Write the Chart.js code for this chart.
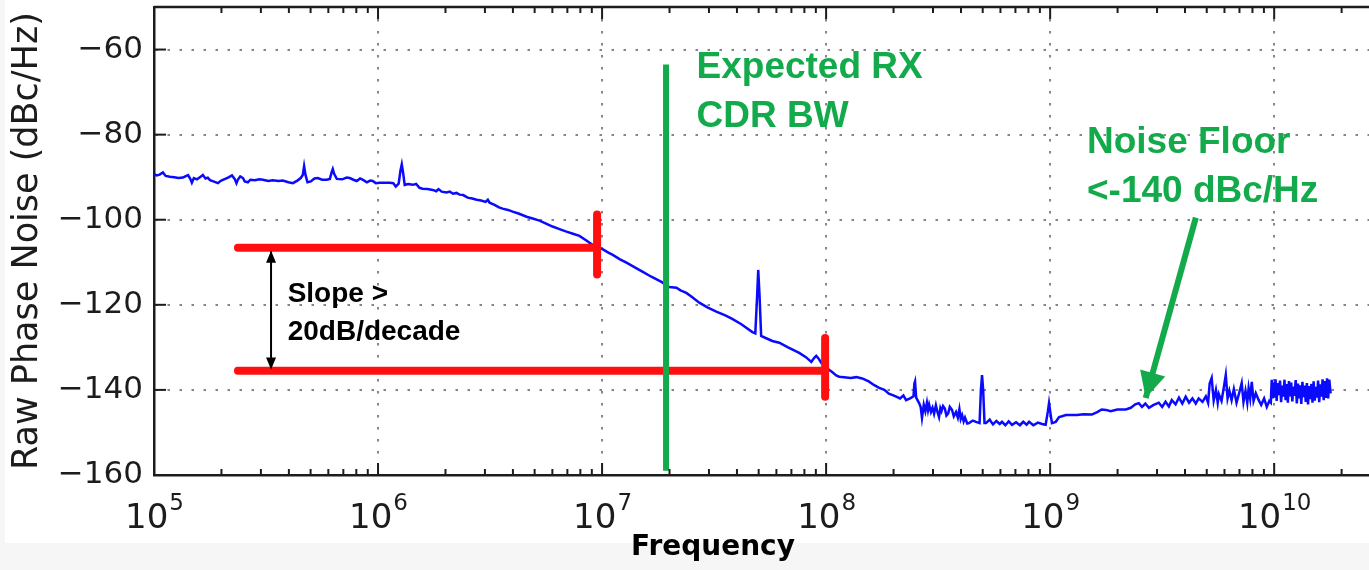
<!DOCTYPE html>
<html>
<head>
<meta charset="utf-8">
<title>Raw Phase Noise</title>
<script src="https://cdn.jsdelivr.net/npm/chart.js@4.4.1/dist/chart.umd.min.js"></script>
<style>
  html, body { margin: 0; padding: 0; background: #fff; }
  canvas { display: block; }
</style>
</head>
<body>
<canvas id="ruido" width="1369" height="570"></canvas>
<script>
// exponente de la frecuencia (log10 Hz) y ruido de fase
const freqExp = [
  5.000, 5.012, 5.025, 5.040, 5.052, 5.071, 5.090, 5.110, 5.129, 5.140,
  5.152, 5.162, 5.169, 5.178, 5.192, 5.205, 5.218, 5.230, 5.240, 5.250,
  5.265, 5.285, 5.300, 5.318, 5.335, 5.348, 5.360, 5.368, 5.374, 5.385,
  5.397, 5.405, 5.419, 5.430, 5.450, 5.470, 5.486, 5.510, 5.530, 5.555,
  5.575, 5.600, 5.620, 5.640, 5.655, 5.664, 5.670, 5.676, 5.685, 5.700,
  5.716, 5.731, 5.750, 5.771, 5.785, 5.793, 5.798, 5.804, 5.816, 5.840,
  5.860, 5.874, 5.890, 5.905, 5.920, 5.935, 5.950, 5.965, 5.976, 5.990,
  6.008, 6.030, 6.052, 6.068, 6.079, 6.092, 6.100, 6.106, 6.112, 6.119,
  6.135, 6.155, 6.170, 6.185, 6.199, 6.220, 6.244, 6.260, 6.270, 6.284,
  6.306, 6.320, 6.335, 6.350, 6.364, 6.380, 6.400, 6.420, 6.440, 6.460,
  6.480, 6.490, 6.498, 6.520, 6.540, 6.556, 6.580, 6.601, 6.630, 6.663,
  6.690, 6.721, 6.750, 6.779, 6.810, 6.841, 6.870, 6.899, 6.930, 6.957,
  6.980, 7.002, 7.030, 7.046, 7.080, 7.109, 7.150, 7.180, 7.220, 7.265,
  7.300, 7.332, 7.350, 7.376, 7.400, 7.434, 7.470, 7.510, 7.550, 7.581,
  7.620, 7.671, 7.684, 7.692, 7.697, 7.703, 7.710, 7.730, 7.760, 7.791,
  7.830, 7.880, 7.910, 7.934, 7.948, 7.956, 7.966, 7.978, 8.000, 8.027,
  8.045, 8.058, 8.080, 8.110, 8.135, 8.161, 8.190, 8.215, 8.237, 8.260,
  8.280, 8.300, 8.313, 8.330, 8.345, 8.357, 8.375, 8.390, 8.394, 8.397,
  8.402, 8.415, 8.422, 8.428, 8.436, 8.443, 8.450, 8.455, 8.460, 8.468,
  8.475, 8.482, 8.490, 8.497, 8.504, 8.510, 8.515, 8.522, 8.530, 8.537,
  8.545, 8.552, 8.562, 8.570, 8.580, 8.588, 8.595, 8.601, 8.607, 8.614,
  8.620, 8.630, 8.638, 8.655, 8.669, 8.685, 8.691, 8.696, 8.701, 8.707,
  8.714, 8.730, 8.745, 8.760, 8.775, 8.785, 8.800, 8.815, 8.830, 8.848,
  8.865, 8.880, 8.895, 8.906, 8.925, 8.945, 8.964, 8.980, 8.990, 8.995,
  9.000, 9.008, 9.025, 9.040, 9.053, 9.070, 9.084, 9.120, 9.150, 9.186,
  9.210, 9.230, 9.249, 9.270, 9.300, 9.338, 9.360, 9.380, 9.396, 9.410,
  9.425, 9.441, 9.460, 9.485, 9.500, 9.515, 9.530, 9.543, 9.560, 9.575,
  9.590, 9.605, 9.620, 9.635, 9.650, 9.663, 9.680, 9.695, 9.705, 9.712,
  9.721, 9.730, 9.740, 9.748, 9.753, 9.765, 9.775, 9.784, 9.792, 9.800,
  9.810, 9.820, 9.832, 9.845, 9.855, 9.863, 9.872, 9.880, 9.886, 9.893,
  9.900, 9.908, 9.918, 9.931, 9.942, 9.955, 9.967, 9.978, 9.985, 9.989,
  9.993, 9.997, 10.001, 10.006, 10.011, 10.016, 10.021, 10.026, 10.031, 10.036,
  10.041, 10.046, 10.051, 10.056, 10.061, 10.066, 10.071, 10.076, 10.081, 10.086,
  10.091, 10.096, 10.101, 10.106, 10.111, 10.116, 10.121, 10.126, 10.131, 10.136,
  10.141, 10.146, 10.151, 10.156, 10.161, 10.166, 10.171, 10.176, 10.181, 10.186,
  10.191, 10.196, 10.201, 10.206, 10.211, 10.216, 10.221, 10.226, 10.231, 10.236,
  10.241, 10.246, 10.252
];
const noiseDb = [
  -89.3, -89.6, -89.4, -88.9, -89.7, -89.9, -90.0, -90.2, -90.1, -89.8,
  -89.5, -90.4, -91.3, -90.2, -90.5, -90.0, -89.5, -90.3, -90.1, -90.7,
  -91.0, -91.4, -90.8, -90.4, -90.0, -89.6, -90.4, -91.4, -90.6, -89.8,
  -90.2, -91.0, -91.2, -90.6, -90.7, -90.5, -90.6, -90.9, -90.7, -90.9,
  -90.8, -91.2, -91.4, -90.8, -90.2, -89.5, -87.4, -89.4, -91.2, -91.0,
  -90.3, -90.2, -90.6, -90.6, -90.4, -88.8, -88.1, -89.2, -90.4, -90.5,
  -90.1, -90.2, -90.6, -90.9, -90.3, -90.7, -91.2, -90.8, -90.9, -91.4,
  -91.3, -91.3, -91.3, -91.4, -92.2, -91.5, -88.5, -87.0, -89.0, -91.8,
  -91.6, -91.8, -91.6, -92.5, -92.7, -92.8, -93.0, -93.3, -92.8, -93.4,
  -93.6, -93.4, -93.9, -93.7, -94.1, -94.2, -94.8, -95.0, -95.3, -95.5,
  -95.8, -95.3, -96.0, -96.5, -97.1, -97.4, -97.7, -98.1, -98.6, -99.3,
  -99.7, -100.2, -100.9, -101.6, -102.2, -102.8, -103.3, -103.8, -104.9, -105.9,
  -106.5, -106.9, -107.8, -108.2, -109.3, -110.1, -111.3, -112.2, -113.4, -114.6,
  -115.8, -116.0, -116.6, -117.2, -118.1, -119.5, -120.6, -121.6, -122.5, -123.3,
  -124.5, -126.4, -126.7, -118.0, -111.8, -118.0, -127.3, -127.8, -128.5, -128.9,
  -130.0, -131.3, -132.3, -133.4, -132.4, -132.0, -132.6, -133.6, -134.8, -135.8,
  -136.6, -136.9, -137.0, -137.2, -137.0, -137.3, -138.0, -138.9, -139.5, -140.0,
  -140.9, -141.3, -141.6, -142.0, -141.3, -142.4, -142.0, -141.5, -138.5, -138.0,
  -141.8, -143.1, -144.0, -146.6, -143.5, -145.0, -143.0, -144.8, -143.5, -145.2,
  -144.2, -145.6, -143.6, -145.2, -146.4, -144.3, -145.0, -143.8, -144.4, -146.0,
  -145.5, -144.0, -144.7, -146.2, -145.2, -146.5, -144.5, -146.8, -145.9, -147.4,
  -146.5, -147.9, -147.8, -147.2, -147.5, -147.8, -140.0, -136.5, -140.0, -147.8,
  -147.8, -147.0, -148.1, -147.3, -148.0, -147.5, -148.3, -147.4, -148.2, -147.6,
  -148.3, -147.5, -148.2, -147.5, -148.3, -147.7, -148.0, -148.2, -145.0, -143.1,
  -145.0, -147.8, -147.5, -146.4, -146.2, -145.9, -145.9, -145.9, -145.7, -145.8,
  -145.2, -144.6, -144.7, -145.0, -144.6, -144.6, -144.2, -143.4, -143.1, -144.0,
  -143.2, -144.2, -143.6, -143.0, -144.0, -142.8, -143.9, -142.4, -143.4, -141.8,
  -143.2, -141.6, -143.0, -142.0, -143.2, -142.0, -142.8, -141.5, -143.0, -138.5,
  -137.2, -142.5, -140.0, -143.0, -141.0, -142.6, -139.5, -136.5, -142.0, -140.2,
  -142.4, -139.8, -143.0, -140.5, -138.4, -142.8, -140.2, -143.0, -139.6, -142.0,
  -138.1, -142.6, -140.8, -142.4, -143.5, -142.0, -144.0, -142.6, -143.0, -137.6,
  -142.0, -138.2, -141.8, -137.5, -142.6, -138.4, -141.2, -137.8, -142.9, -139.0,
  -141.6, -137.6, -142.4, -138.6, -143.0, -137.9, -141.5, -138.3, -142.7, -139.2,
  -141.4, -137.7, -143.2, -138.5, -142.0, -138.9, -143.3, -138.1, -141.7, -139.0,
  -142.8, -138.4, -143.4, -139.1, -142.2, -138.6, -143.0, -138.0, -142.5, -139.3,
  -141.8, -137.8, -142.9, -138.7, -141.6, -137.5, -142.4, -137.9, -141.9, -137.3,
  -142.0, -137.6, -140.8
];

const yTicks = [-160, -140, -120, -100, -80, -60];
const decadas = [5, 6, 7, 8, 9, 10];

// anotaciones [frecuencia, dBc/Hz]
const cdrBw = [[1.93e7, -63.5], [1.93e7, -159]];
const refSuperior = [[2.37e5, -106.6], [9.5e6, -106.6]];
const marcaSuperior = [[9.5e6, -98.8], [9.5e6, -112.9]];
const refInferior = [[2.37e5, -135.5], [9.9e7, -135.5]];
const marcaInferior = [[9.9e7, -127.8], [9.9e7, -141.6]];
const flechaPendiente = [[3.33e5, -107.3], [3.33e5, -135.2]];
const flechaPiso = [[4.47e9, -99.5], [2.67e9, -141.9]];

const textos = [
  { t: "Expected RX", f: 2.64e7, db: -66.6, tipo: "verde" },
  { t: "CDR BW", f: 2.64e7, db: -78.1, tipo: "verde" },
  { t: "Noise Floor", f: 1.46e9, db: -84.2, tipo: "verde" },
  { t: "<-140 dBc/Hz", f: 1.46e9, db: -95.8, tipo: "verde" },
  { t: "Slope >", f: 3.95e5, db: -119.3, tipo: "negro" },
  { t: "20dB/decade", f: 3.95e5, db: -128.2, tipo: "negro" }
];

const VERDE = "#13aa4b";
const ROJO = "#fe1010";
const AZUL = "#0a0aff";
const TINTA = "#1c1c1c";

function esDecada(v) {
    if (!v) return false;
    const e = Math.log10(v);
    return Math.abs(e - Math.round(e)) < 1e-9;
}

function puntos(pares) {
    return pares.map(p => ({ x: p[0], y: p[1] }));
}

function flecha(ctx, x0, y0, x1, y1, largo, ancho, color) {
    const ang = Math.atan2(y1 - y0, x1 - x0);
    ctx.save();
    ctx.fillStyle = color;
    ctx.translate(x1, y1);
    ctx.rotate(ang);
    ctx.beginPath();
    ctx.moveTo(0, 0);
    ctx.lineTo(-largo, -ancho);
    ctx.lineTo(-largo, ancho);
    ctx.closePath();
    ctx.fill();
    ctx.restore();
}

const fondo = {
    id: "fondo",
    beforeDraw(chart) {
        const ctx = chart.ctx;
        ctx.save();
        ctx.fillStyle = "#ffffff";
        ctx.fillRect(0, 0, chart.width, chart.height);
        ctx.fillStyle = "#f6f6f6";
        ctx.fillRect(0, 543, chart.width, chart.height - 543);
        ctx.fillRect(0, 0, 5, 543);
        ctx.restore();
    }
};

const anotaciones = {
    id: "anotaciones",
    afterDatasetsDraw(chart) {
        const { ctx, scales: { x, y } } = chart;
        const px = p => [x.getPixelForValue(p[0]), y.getPixelForValue(p[1])];

        // puntas de flecha
        const [a0, a1] = [px(flechaPendiente[0]), px(flechaPendiente[1])];
        flecha(ctx, a1[0], a1[1], a0[0], a0[1], 12, 5, "#000");
        flecha(ctx, a0[0], a0[1], a1[0], a1[1], 12, 5, "#000");
        const [b0, b1] = [px(flechaPiso[0]), px(flechaPiso[1])];
        flecha(ctx, b0[0], b0[1], b1[0], b1[1], 26, 13, VERDE);

        ctx.save();
        ctx.textAlign = "left";
        ctx.textBaseline = "alphabetic";
        textos.forEach(tx => {
            if (tx.tipo === "verde") {
                ctx.font = "bold 37px 'Liberation Sans', Arial, sans-serif";
                ctx.fillStyle = VERDE;
            } else {
                ctx.font = "bold 28px 'Liberation Sans', Arial, sans-serif";
                ctx.fillStyle = "#000";
            }
            ctx.fillText(tx.t, x.getPixelForValue(tx.f), y.getPixelForValue(tx.db));
        });
        ctx.restore();
    },
    afterDraw(chart) {
        const { ctx, chartArea: a, scales: { x, y } } = chart;
        ctx.save();
        ctx.strokeStyle = TINTA;
        ctx.lineWidth = 2;
        const linea = (x0, y0, x1, y1) => {
            ctx.beginPath(); ctx.moveTo(x0, y0); ctx.lineTo(x1, y1); ctx.stroke();
        };
        // marcas hacia adentro, estilo matplotlib
        x.ticks.forEach(t => {
            const e = Math.floor(Math.log10(t.value) + 1e-9);
            const m = t.value / Math.pow(10, e);
            if (Math.abs(m - Math.round(m)) > 1e-6) return;
            const largo = Math.round(m) === 1 ? 12 : 6;
            const p = x.getPixelForValue(t.value);
            linea(p, a.bottom, p, a.bottom - largo);
            linea(p, a.top, p, a.top + largo);
        });
        y.ticks.forEach(t => {
            const p = y.getPixelForValue(t.value);
            linea(a.left, p, a.left + 12, p);
        });
        // borde superior
        ctx.lineWidth = 2.5;
        linea(a.left, a.top, a.right, a.top);

        // etiquetas 10^n con exponente elevado
        ctx.fillStyle = TINTA;
        ctx.textAlign = "left";
        ctx.textBaseline = "alphabetic";
        const fBase = "34px 'DejaVu Sans', sans-serif";
        const fExp = "23px 'DejaVu Sans', sans-serif";
        decadas.forEach(e => {
            const p = x.getPixelForValue(Math.pow(10, e));
            ctx.font = fBase;
            const w1 = ctx.measureText("10").width;
            ctx.font = fExp;
            const w2 = ctx.measureText(String(e)).width;
            const x0 = p - (w1 + w2) / 2;
            ctx.font = fBase;
            ctx.fillText("10", x0, a.bottom + 53);
            ctx.font = fExp;
            ctx.fillText(String(e), x0 + w1 + 1, a.bottom + 35);
        });

        // titulo del eje x
        ctx.fillStyle = "#000";
        ctx.font = "bold 28px 'DejaVu Sans', sans-serif";
        ctx.textAlign = "center";
        ctx.textBaseline = "middle";
        ctx.fillText("Frequency", 713, 548);
        ctx.restore();
    }
};

const lineaBase = { pointRadius: 0, fill: false, tension: 0 };

new Chart(document.getElementById("ruido"), {
    type: "line",
    data: {
        datasets: [
            { ...lineaBase, data: puntos(cdrBw), borderColor: VERDE, borderWidth: 6, order: 0 },
            { ...lineaBase, data: puntos(flechaPiso), borderColor: VERDE, borderWidth: 6, order: 0 },
            { ...lineaBase, data: puntos(refSuperior), borderColor: ROJO, borderWidth: 8, borderCapStyle: "round", order: 1 },
            { ...lineaBase, data: puntos(marcaSuperior), borderColor: ROJO, borderWidth: 8, borderCapStyle: "round", order: 1 },
            { ...lineaBase, data: puntos(refInferior), borderColor: ROJO, borderWidth: 8, borderCapStyle: "round", order: 1 },
            { ...lineaBase, data: puntos(marcaInferior), borderColor: ROJO, borderWidth: 8, borderCapStyle: "round", order: 1 },
            { ...lineaBase, data: puntos(flechaPendiente), borderColor: "#000", borderWidth: 2, order: 2 },
            {
                ...lineaBase,
                data: freqExp.map((e, i) => ({ x: Math.pow(10, e), y: noiseDb[i] })),
                borderColor: AZUL,
                borderWidth: 2.5,
                order: 5
            }
        ]
    },
    options: {
        responsive: false,
        animation: false,
        devicePixelRatio: 1,
        events: [],
        layout: { padding: { top: 7, left: 0, right: 0, bottom: 0 } },
        plugins: {
            legend: { display: false },
            tooltip: { enabled: false }
        },
        scales: {
            x: {
                type: "logarithmic",
                min: 1e5,
                max: 2.65e10,
                afterFit: s => { s.height = 95; s.paddingLeft = 0; s.paddingRight = 0; },
                grid: {
                    color: c => esDecada(c.tick && c.tick.value) ? "#858585" : "rgba(0,0,0,0)",
                    lineWidth: 2,
                    drawTicks: false
                },
                border: { display: true, color: TINTA, width: 2.5, dash: [2.5, 9.5] },
                ticks: {
                    autoSkip: false,
                    maxRotation: 0,
                    minRotation: 0,
                    callback: () => ""
                }
            },
            y: {
                min: -160,
                max: -50,
                afterBuildTicks: s => { s.ticks = yTicks.map(v => ({ value: v })); },
                afterFit: s => { s.width = 154; s.paddingTop = 0; s.paddingBottom = 0; },
                grid: { color: "#858585", lineWidth: 2, drawTicks: false },
                border: { display: true, color: TINTA, width: 2.5, dash: [2.5, 9.5] },
                ticks: {
                    padding: 11,
                    color: TINTA,
                    font: { family: "'DejaVu Sans'", size: 31 },
                    callback: v => (v < 0 ? "\u2212" : "") + Math.abs(v)
                },
                title: {
                    display: true,
                    text: "Raw Phase Noise (dBc/Hz)",
                    color: TINTA,
                    font: { family: "'DejaVu Sans'", size: 35 },
                    padding: { top: 7, bottom: 0 }
                }
            }
        }
    },
    plugins: [fondo, anotaciones]
});
</script>
</body>
</html>
